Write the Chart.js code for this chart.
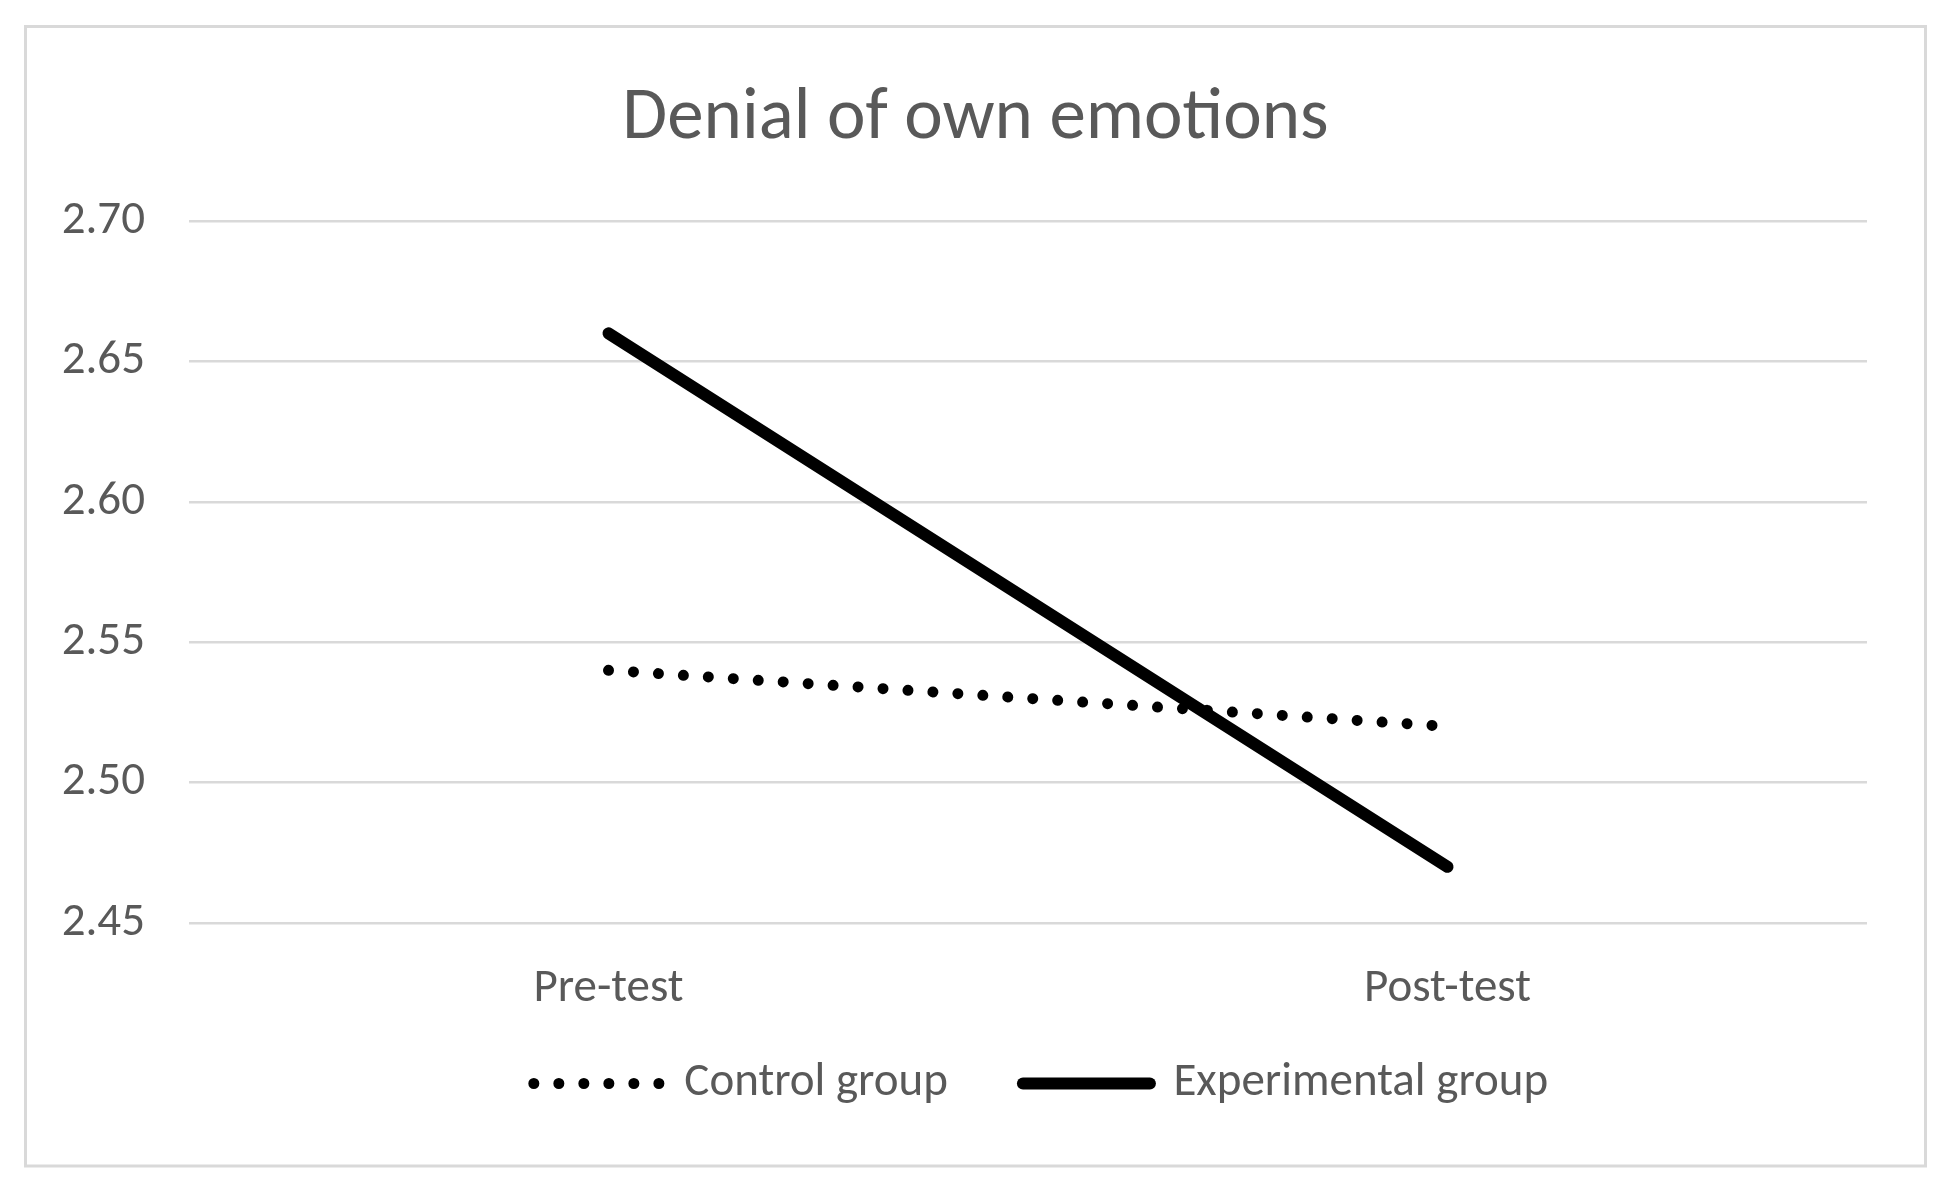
<!DOCTYPE html>
<html><head><meta charset="utf-8">
<script src="https://cdn.jsdelivr.net/npm/chart.js@4/dist/chart.umd.min.js"></script>
<style>html,body{margin:0;padding:0;background:#fff;overflow:hidden}</style>
</head><body>
<canvas id="c" width="1951" height="1189" style="display:block;width:1951px;height:1189px"></canvas>
<script>
const chartTitle = 'Denial of own emotions';
const categories = ['Pre-test', 'Post-test'];
const controlLabel = 'Control group';
const experimentalLabel = 'Experimental group';
const controlValues = [2.54, 2.52];
const experimentalValues = [2.66, 2.47];
const yTickValues = [2.45, 2.50, 2.55, 2.60, 2.65, 2.70];

const FONT = 'Carlito, Calibri, Lato, sans-serif';
const TXT = '#595959';
const GRID = '#d9d9d9';
const LABEL_SIZE = 47;

const framePlugin = {
  id: 'frame',
  beforeDraw(chart) {
    const ctx = chart.ctx;
    ctx.save();
    ctx.fillStyle = '#ffffff';
    ctx.fillRect(0, 0, chart.width, chart.height);
    ctx.strokeStyle = GRID;
    ctx.lineWidth = 3;
    ctx.strokeRect(25.5, 26.5, 1900, 1139.5);
    ctx.restore();
  }
};

// nudge the legend row closer to the axis labels (as in the original layout)
const legendNudge = {
  id: 'legendNudge',
  afterLayout(chart) {
    const lg = chart.legend;
    if (!lg) return;
    const dy = -33, dx = 13;
    lg.top += dy; lg.bottom += dy;
    lg.left += dx; lg.right += dx;
  }
};

new Chart(document.getElementById('c'), {
  type: 'line',
  data: {
    labels: categories,
    datasets: [
      {
        label: controlLabel,
        data: controlValues,
        borderColor: '#000',
        backgroundColor: '#000',
        borderWidth: 11,
        borderDash: [0.01, 25],
        borderCapStyle: 'round',
        pointRadius: 0,
        tension: 0,
        fill: false
      },
      {
        label: experimentalLabel,
        data: experimentalValues,
        borderColor: '#000',
        backgroundColor: '#000',
        borderWidth: 12,
        borderCapStyle: 'round',
        borderJoinStyle: 'round',
        pointRadius: 0,
        tension: 0,
        fill: false
      }
    ]
  },
  options: {
    responsive: false,
    devicePixelRatio: 1,
    animation: false,
    layout: { padding: { left: 0, right: 0, top: 0, bottom: 39 } },
    plugins: {
      tooltip: { enabled: false },
      title: {
        display: true,
        text: chartTitle,
        color: TXT,
        font: { family: FONT, size: 73, weight: 'normal' },
        padding: { top: 76, bottom: 57.4 }
      },
      legend: {
        display: true,
        position: 'bottom',
        fullSize: false,
        labels: {
          color: TXT,
          font: { family: FONT, size: LABEL_SIZE },
          usePointStyle: true,
          pointStyle: 'line',
          pointStyleWidth: 127,
          padding: 75,
          generateLabels: chart => {
            const items = Chart.defaults.plugins.legend.labels.generateLabels(chart);
            items.forEach(it => {
              const ds = chart.data.datasets[it.datasetIndex];
              it.lineDash = ds.borderDash || [];
              it.lineCap = 'round';
              it.lineWidth = ds.borderWidth;
              it.strokeStyle = ds.borderColor;
              it.fillStyle = ds.borderColor;
            });
            return items;
          }
        }
      }
    },
    scales: {
      x: {
        offset: true,
        grid: { display: false, drawTicks: false },
        border: { display: false },
        ticks: { color: TXT, font: { family: FONT, size: LABEL_SIZE }, padding: 38, maxRotation: 0 },
        afterFit: s => { s.height = 95; }
      },
      y: {
        min: 2.45,
        max: 2.70,
        grid: { color: GRID, lineWidth: 2.5, drawTicks: false },
        border: { display: false },
        ticks: {
          color: TXT,
          font: { family: FONT, size: LABEL_SIZE },
          padding: 44,
          callback: v => Number(v).toFixed(2)
        },
        afterBuildTicks: s => { s.ticks = yTickValues.map(v => ({ value: v })); },
        afterFit: s => { s.width = 189; }
      },
      yRight: {
        position: 'right',
        display: true,
        grid: { display: false, drawTicks: false },
        border: { display: false },
        ticks: { display: false },
        afterFit: s => { s.width = 84; }
      }
    }
  },
  plugins: [framePlugin, legendNudge]
});
</script>
</body></html>
